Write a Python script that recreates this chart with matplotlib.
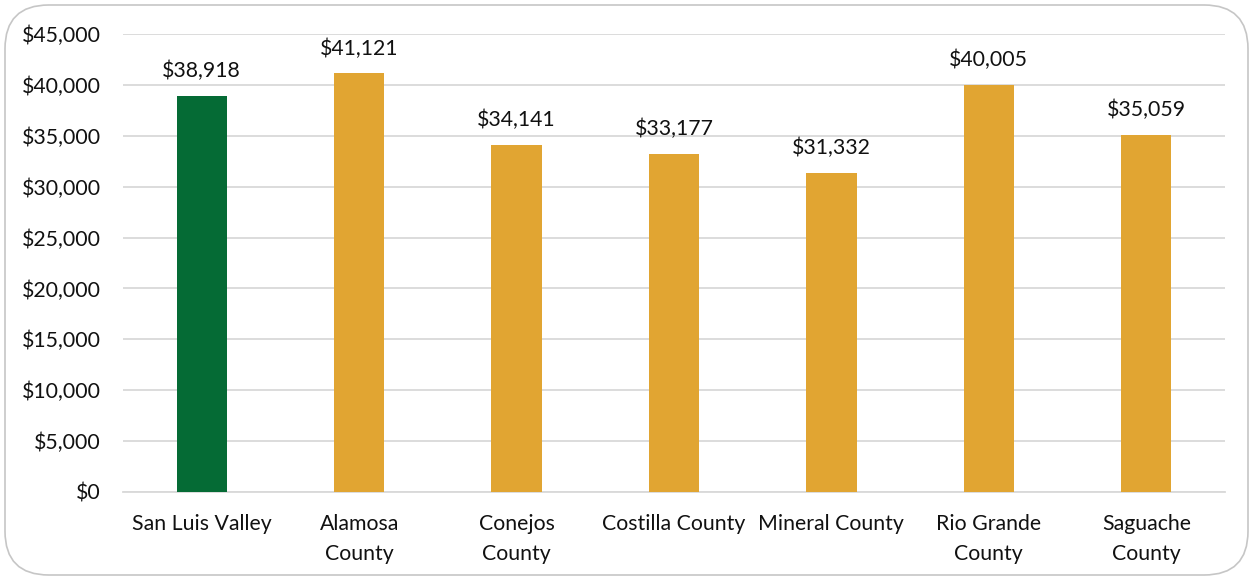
import matplotlib
matplotlib.use("Agg")
import matplotlib.pyplot as plt
from matplotlib.patches import FancyBboxPatch
from matplotlib.ticker import FuncFormatter, MultipleLocator

categories = ["San Luis Valley", "Alamosa\nCounty", "Conejos\nCounty", "Costilla County",
              "Mineral County", "Rio Grande\nCounty", "Saguache\nCounty"]
values = [38918, 41121, 34141, 33177, 31332, 40005, 35059]
colors = ["#056b35"] + ["#e1a532"] * 6

plt.rcParams["font.family"] = ["Lato", "DejaVu Sans"]
FS = 15.3

fig = plt.figure(figsize=(12.52, 5.79), dpi=100)
frame = FancyBboxPatch((5 / 1252, 4 / 579), 1243 / 1252, 570 / 579,
                       boxstyle="round,pad=0,rounding_size=0.035",
                       transform=fig.transFigure, facecolor="white",
                       edgecolor="#c6c6c6", linewidth=1.2,
                       mutation_aspect=1252 / 579, zorder=-5)
fig.patches.append(frame)
ax = fig.add_axes([123 / 1252, 1 - 492 / 579, 1102 / 1252, 458 / 579])
ax.set_facecolor("none")

x = range(len(categories))
bars = ax.bar(x, values, width=0.32, color=colors, zorder=3)
for xi, v in zip(x, values):
    ax.text(xi, v + 1450, f"${v:,}", ha="center", va="bottom", fontsize=FS, color="#111111")

ax.set_xlim(-0.5, len(categories) - 0.5)
ax.set_ylim(0, 45000)
ax.yaxis.set_major_locator(MultipleLocator(5000))
ax.yaxis.set_major_formatter(FuncFormatter(lambda v, p: f"${int(v):,}"))
ax.grid(axis="y", color="#d9d9d9", linewidth=1.3, zorder=0)
for s in ["top", "right", "left"]:
    ax.spines[s].set_visible(False)
ax.spines["bottom"].set_color("#d9d9d9")
ax.spines["bottom"].set_linewidth(1.3)
ax.set_xticks(list(x))
ax.set_xticklabels(categories, fontsize=FS, linespacing=1.6, va="top")
ax.tick_params(axis="both", length=0, labelsize=FS, colors="#111111")
ax.tick_params(axis="x", pad=16)
ax.tick_params(axis="y", pad=16)

fig.savefig("out.png", dpi=100)
